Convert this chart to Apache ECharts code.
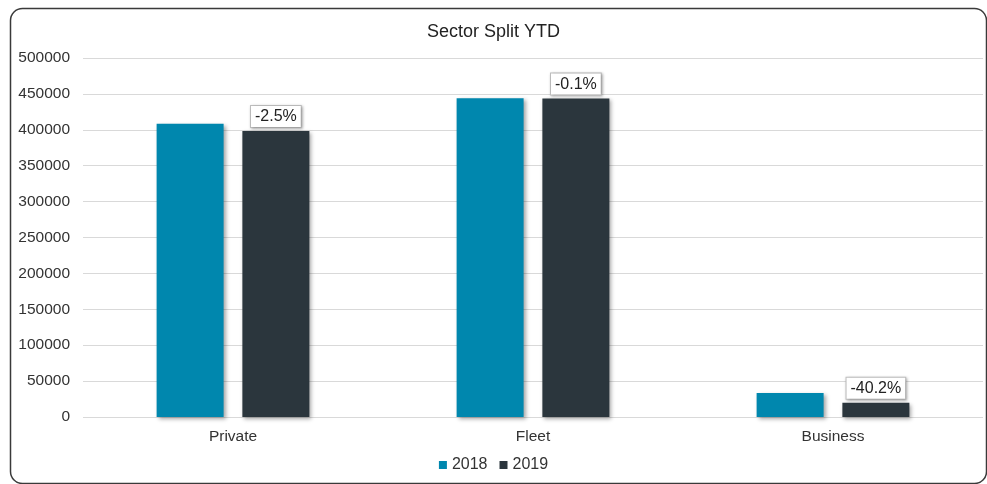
<!DOCTYPE html>
<html><head><meta charset="utf-8">
<script src="https://cdn.jsdelivr.net/npm/echarts@6/dist/echarts.min.js"></script>
<style>html,body{margin:0;padding:0;background:#fff}#c{width:987px;height:484px}</style>
</head><body><div id="c"></div>
<script>
const categories = ["Private", "Fleet", "Business"];
const values2018 = [408500, 444000, 33500];
const values2019 = [398300, 443600, 20000];
const changeLabels = ["-2.5%", "-0.1%", "-40.2%"];
const yTicks = [0, 500000, 50000];

const chart = echarts.init(document.getElementById('c'), null, {renderer: 'canvas'});
const font = 'Liberation Sans, Arial, sans-serif';
chart.setOption({
  animation: false,
  backgroundColor: '#fff',
  graphic: [{
    type: 'rect', left: 8, top: 6,
    shape: {width: 976, height: 475, r: 12},
    style: {fill: 'none', stroke: '#3a3a3a', lineWidth: 1.5}, z: -1
  }],
  title: {
    text: 'Sector Split YTD', left: 'center', top: 18,
    textStyle: {fontFamily: font, fontSize: 18, fontWeight: 'normal', color: '#222'}
  },
  legend: {
    bottom: 6, left: 'center', itemWidth: 8, itemHeight: 8, itemGap: 12,
    icon: 'rect',
    textStyle: {fontFamily: font, fontSize: 16, color: '#333'},
    data: ['2018', '2019']
  },
  grid: {left: 83, right: 4, top: 58, bottom: 67},
  xAxis: {
    type: 'category', data: categories,
    axisLine: {show: false}, axisTick: {show: false},
    axisLabel: {fontFamily: font, fontSize: 15.5, color: '#333', margin: 12}
  },
  yAxis: {
    type: 'value', min: yTicks[0], max: yTicks[1], interval: yTicks[2],
    axisLine: {show: false}, axisTick: {show: false},
    axisLabel: {fontFamily: font, fontSize: 15.5, color: '#333', margin: 13, formatter: v => String(v)},
    splitLine: {lineStyle: {color: '#d9d9d9', width: 1}}
  },
  series: [{
    name: '2018', type: 'bar', data: values2018,
    barWidth: 67, barGap: '28%',
    itemStyle: {color: '#0087ae', shadowColor: 'rgba(0,0,0,0.35)', shadowBlur: 4, shadowOffsetX: 2, shadowOffsetY: 2}
  }, {
    name: '2019', type: 'bar', data: values2019,
    barWidth: 67,
    itemStyle: {color: '#2b363d', shadowColor: 'rgba(0,0,0,0.35)', shadowBlur: 4, shadowOffsetX: 2, shadowOffsetY: 2},
    label: {
      show: true, position: 'top', distance: 4,
      formatter: p => changeLabels[p.dataIndex],
      fontFamily: font, fontSize: 16, color: '#222',
      backgroundColor: '#fff', borderColor: '#bfbfbf', borderWidth: 1,
      padding: [3, 4, 2, 4],
      shadowColor: 'rgba(0,0,0,0.3)', shadowBlur: 3, shadowOffsetX: 1, shadowOffsetY: 1
    }
  }]
});
</script></body></html>
